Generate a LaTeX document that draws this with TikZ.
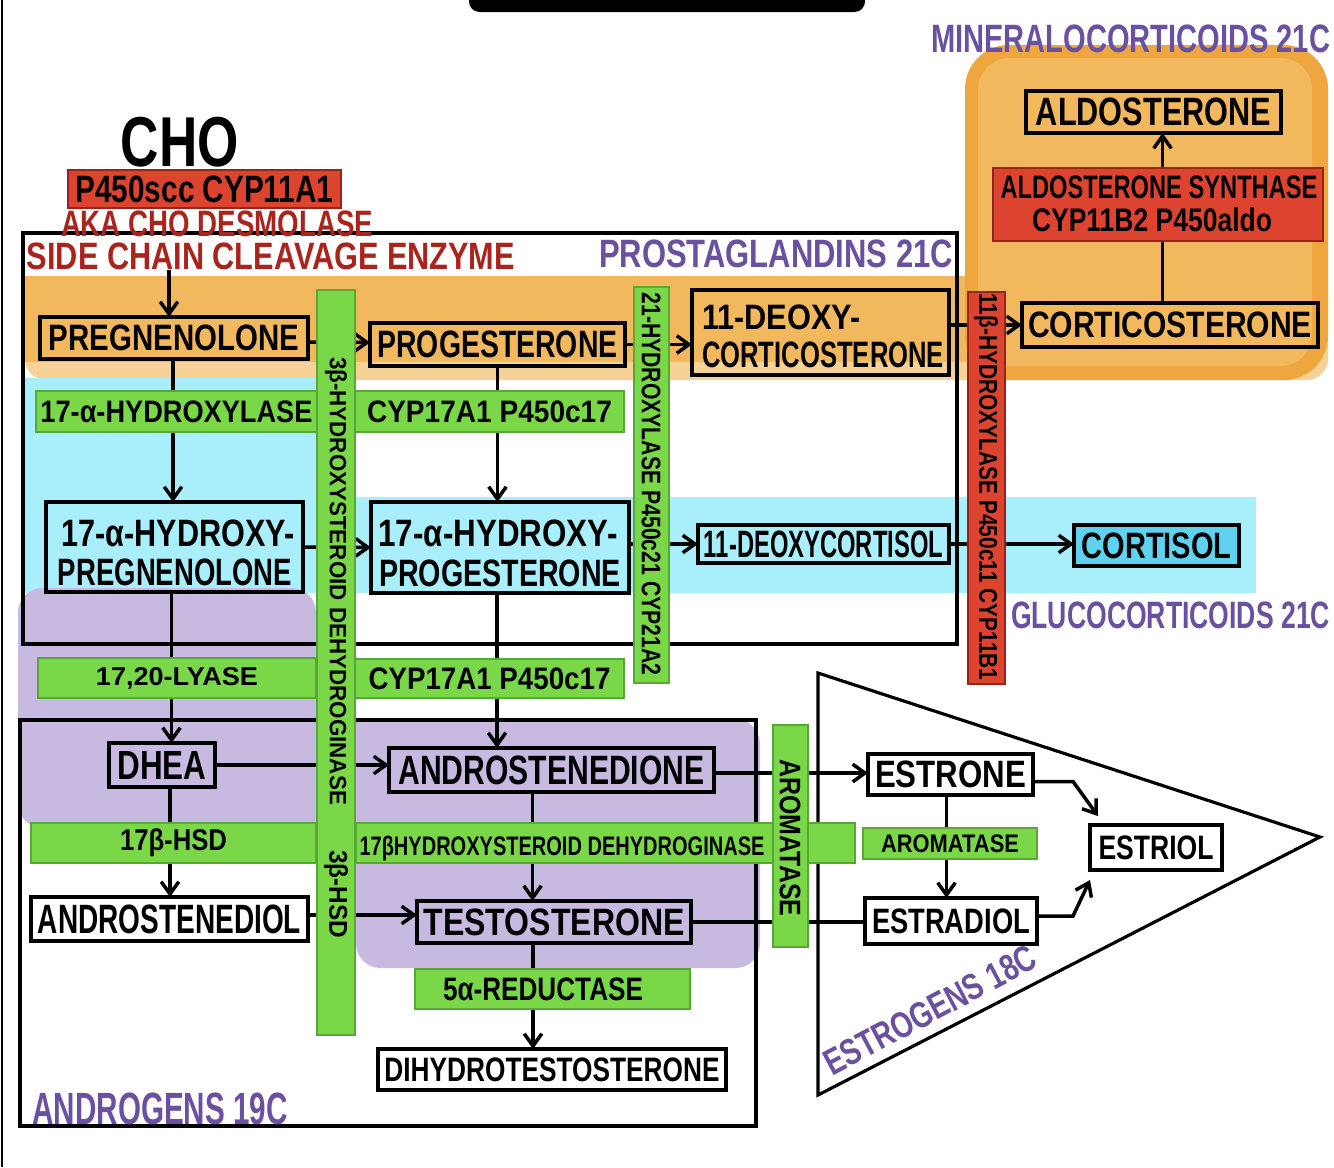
\documentclass[tikz,border=0pt]{standalone}
\usepackage{fontspec}
\setmainfont{Liberation Sans}
\usepackage{graphicx}
\usetikzlibrary{arrows.meta,calc}
\newlength\pxl
\setlength\pxl{0.02cm}
\newcommand\ft[3]{\resizebox*{#1\pxl}{#2\pxl}{\bfseries #3}}
\newcommand\bx[7]{\node[#6,minimum width={(#4-#2)*\pxl},minimum height={(#5-#3)*\pxl}] (#1) at ({(#2+#4)/2},{(#3+#5)/2}) {#7};}
\definecolor{grn}{RGB}{122,216,72}
\definecolor{grnd}{RGB}{88,168,55}
\definecolor{redb}{RGB}{221,68,48}
\definecolor{redd}{RGB}{150,35,28}
\definecolor{org}{RGB}{242,184,94}
\definecolor{orgd}{RGB}{239,166,62}
\definecolor{orgl}{RGB}{246,210,150}
\definecolor{cyn}{RGB}{168,238,251}
\definecolor{cynd}{RGB}{94,210,238}
\definecolor{prp}{RGB}{200,185,224}
\definecolor{prptx}{RGB}{106,80,160}
\definecolor{redtx}{RGB}{170,36,30}
\pgfdeclarelayer{bg}
\pgfdeclarelayer{lines}
\pgfdeclarelayer{bars}
\pgfsetlayers{bg,lines,bars,main}
\begin{document}
\begin{tikzpicture}[x=0.02cm,y=-0.02cm,
 mol/.style={draw=black,line width=2.4pt,inner sep=0pt,outer sep=0pt},
 gbar/.style={fill=grn,draw=grnd,line width=0.7pt,inner sep=0pt},
 rbar/.style={fill=redb,draw=redd,line width=0.9pt,inner sep=0pt},
 conn/.style={line width=2pt,-{Straight Barb[length=7pt,width=10pt]}},
 plainln/.style={line width=2pt},
 frm/.style={draw=black,line width=1.8pt},
 lbl/.style={inner sep=0pt,outer sep=0pt},
 ptx/.style={lbl,text=prptx},
 rtx/.style={lbl,text=redtx}]
\useasboundingbox (0,0) rectangle (1334,1167);
\clip (0,0) rectangle (1334,1167);
\begin{pgfonlayer}{bg}
\fill[white] (0,0) rectangle (1334,1167);
\fill[black,rounded corners=6pt] (469,-20) rectangle (865,12);
\draw[line width=1.5pt] (2,0) -- (2,1167);
% orange
\fill[orgl,rounded corners=12pt] (25,276) rectangle (1328,380);
\fill[org] (25,276) rectangle (1300,362);
\fill[orgd,rounded corners=25pt] (965,45) rectangle (1328,380);
\fill[org,rounded corners=18pt] (978,58) rectangle (1312,366);
% blue
\fill[cyn] (25,378) -- (318,378) -- (318,497) -- (1256,497) -- (1256,593) -- (25,593) -- cycle;
% purple
\fill[prp,rounded corners=14pt] (18,588) -- (316,588) -- (316,719) -- (760,719) -- (760,968) -- (356,968) -- (356,828) -- (18,828) -- cycle;
% frames
\draw[frm] (23,233) rectangle (957,644);
\draw[frm] (20,720) rectangle (756,1126);
\draw[frm,line join=miter] (818,673) -- (1320,837) -- (818,1095) -- cycle;
\end{pgfonlayer}
% free labels
\node[lbl] (cho) at (180,142) {\ft{118}{50}{CHO}};
\node[rtx] (aka) at (217,224) {\ft{312}{26}{AKA CHO DESMOLASE}};
\node[rtx] (scce) at (271,256) {\ft{488}{27}{SIDE CHAIN CLEAVAGE ENZYME}};
\node[ptx] (pg) at (776,254) {\ft{354}{28}{PROSTAGLANDINS 21C}};
\node[ptx,anchor=west] (mc) at (931,39) {\ft{399}{28}{MINERALOCORTICOIDS 21C}};
\node[ptx,anchor=west] (gc) at (1011,615) {\ft{319}{27}{GLUCOCORTICOIDS 21C}};
\node[ptx] (an) at (160,1109) {\ft{255}{32}{ANDROGENS 19C}};
\node[ptx,rotate=28] (es) at (930,1010) {\ft{235}{26}{ESTROGENS 18C}};
\begin{pgfonlayer}{bars}
\bx{scc}{68}{170}{341}{208}{rbar}{\ft{258}{27}{P450scc CYP11A1}}
\bx{b1}{36}{391}{317}{432}{gbar}{\ft{272}{22}{17-α-HYDROXYLASE}}
\bx{b2}{355}{391}{624}{432}{gbar}{\ft{245}{22}{CYP17A1 P450c17}}
\bx{b3}{38}{658}{316}{698}{gbar}{\ft{162}{22}{17,20-LYASE}}
\bx{b4}{355}{659}{624}{698}{gbar}{\ft{242}{22}{CYP17A1 P450c17}}
\bx{b5}{31}{823}{316}{863}{gbar}{\ft{107}{28}{17β-HSD}}
\bx{b6}{356}{823}{855}{863}{gbar}{}
\node[lbl] (b6t) at (562,849) {\ft{405}{25}{17βHYDROXYSTEROID DEHYDROGINASE}};
\bx{b7}{863}{828}{1037}{859}{gbar}{\ft{138}{18}{AROMATASE}}
\bx{b8}{415}{969}{690}{1009}{gbar}{}
\node[lbl] (b8t) at (543,989) {\ft{200}{23}{5α-REDUCTASE}};
\bx{v1}{317}{290}{355}{1035}{gbar}{}
\node[lbl,rotate=-90] (v1a) at (336,581) {\ft{448}{22}{3β-HYDROXYSTEROID DEHYDROGINASE}};
\node[lbl,rotate=-90] (v1b) at (336,894) {\ft{88}{24}{3β-HSD}};
\bx{v2}{634}{287}{669}{683}{gbar}{}
\node[lbl,rotate=-90] (v2a) at (651,484) {\ft{383}{19}{21-HYDROXYLASE P450c21 CYP21A2}};
\bx{v3}{968}{292}{1005}{684}{rbar}{}
\node[lbl,rotate=-90] (v3a) at (986,487) {\ft{387}{24}{11β-HYDROXYLASE P450c11 CYP11B1}};
\bx{v4}{773}{725}{808}{947}{gbar}{}
\node[lbl,rotate=-90] (v4a) at (790,838) {\ft{157}{21}{AROMATASE}};
\bx{syn}{993}{168}{1323}{241}{rbar}{}
\node[lbl] (syn1) at (1159,187) {\ft{317}{23}{ALDOSTERONE SYNTHASE}};
\node[lbl] (syn2) at (1152,220) {\ft{240}{24}{CYP11B2 P450aldo}};
\end{pgfonlayer}
% molecules
\bx{preg}{40}{317}{308}{359}{mol}{\ft{250}{26}{PREGNENOLONE}}
\bx{prog}{370}{323}{625}{366}{mol}{\ft{240}{27}{PROGESTERONE}}
\bx{dcs}{692}{290}{949}{375}{mol}{}
\node[lbl,anchor=west] (dcs1) at (702,317) {\ft{159}{25}{11-DEOXY-}};
\node[lbl,anchor=west] (dcs2) at (702,355) {\ft{242}{26}{CORTICOSTERONE}};
\bx{cort}{1022}{303}{1318}{347}{mol}{\ft{284}{26}{CORTICOSTERONE}}
\bx{aldo}{1026}{91}{1281}{133}{mol}{\ft{235}{28}{ALDOSTERONE}}
\bx{ohpreg}{46}{502}{303}{592}{mol}{}
\node[lbl] (ohpreg1) at (178,533) {\ft{233}{27}{17-α-HYDROXY-}};
\node[lbl] (ohpreg2) at (175,572) {\ft{234}{27}{PREGNENOLONE}};
\bx{ohprog}{371}{502}{629}{593}{mol}{}
\node[lbl] (ohprog1) at (498,533) {\ft{239}{27}{17-α-HYDROXY-}};
\node[lbl] (ohprog2) at (500,573) {\ft{242}{27}{PROGESTERONE}};
\bx{dcl}{698}{525}{949}{563}{mol}{\ft{239}{27}{11-DEOXYCORTISOL}}
\bx{cortisol}{1074}{525}{1239}{566}{mol,fill=cynd}{\ft{150}{26}{CORTISOL}}
\bx{dhea}{109}{743}{215}{787}{mol}{\ft{89}{28}{DHEA}}
\bx{andro}{389}{748}{714}{792}{mol}{\ft{306}{29}{ANDROSTENEDIONE}}
\bx{diol}{31}{897}{308}{941}{mol,fill=white}{\ft{263}{29}{ANDROSTENEDIOL}}
\bx{testo}{417}{901}{691}{943}{mol}{\ft{261}{27}{TESTOSTERONE}}
\bx{dht}{378}{1049}{726}{1090}{mol,fill=white}{\ft{335}{24}{DIHYDROTESTOSTERONE}}
\bx{estrone}{868}{754}{1033}{795}{mol,fill=white}{\ft{151}{27}{ESTRONE}}
\bx{estradiol}{865}{898}{1037}{944}{mol,fill=white}{\ft{158}{25}{ESTRADIOL}}
\bx{estriol}{1090}{825}{1222}{870}{mol,fill=white}{\ft{115}{24}{ESTRIOL}}
% connectors
\begin{pgfonlayer}{lines}
\coordinate (chotop) at (169,270);
\coordinate (a1) at ([xshift=9\pxl]aldo.south);
\coordinate (p1) at ([xshift=-1\pxl]preg.south);
\coordinate (p2) at ([xshift=-3\pxl]ohpreg.south);
\coordinate (p3) at ([xshift=-3\pxl]ohprog.south);
\coordinate (p4) at ([xshift=8\pxl]dhea.south);
\coordinate (p5) at ([xshift=-19\pxl]andro.south);
\coordinate (p6) at ([xshift=-21\pxl]testo.south);
\coordinate (p7) at ([xshift=-4\pxl]estrone.south);
\coordinate (q1) at ([yshift=4\pxl]diol.east);
\coordinate (q2) at ([yshift=-3\pxl]andro.east);
\coordinate (e1) at (1098,816);
\coordinate (e2) at (1090,880);
\draw[conn] (chotop) -- (chotop |- preg.north);
\draw[conn] ([yshift=-4\pxl]preg.east) -- ([yshift=2\pxl]prog.west);
\draw[conn] (prog.east) -- (prog.east -| dcs.west);
\draw[conn] (dcs.east |- cort.west) -- (cort.west);
\draw[conn] (a1 |- cort.north) -- (a1);
\draw[conn] (p1) -- (p1 |- ohpreg.north);
\draw[conn] (prog.south) -- (prog.south |- ohprog.north);
\draw[conn] (ohpreg.east) -- (ohprog.west);
\draw[conn] (ohprog.east |- dcl.west) -- (dcl.west);
\draw[conn] (dcl.east) -- (dcl.east -| cortisol.west);
\draw[conn] (p2) -- (p2 |- dhea.north);
\draw[conn] (p3) -- (p3 |- andro.north);
\draw[conn] (dhea.east) -- (dhea.east -| andro.west);
\draw[conn] (p4) -- (p4 |- diol.north);
\draw[conn] (p5) -- (p5 |- testo.north);
\draw[conn] (q1) -- (q1 -| testo.west);
\draw[conn] (p6) -- (p6 |- dht.north);
\draw[conn] (q2) -- (q2 -| estrone.west);
\draw[plainln] (testo.east) -- (testo.east -| estradiol.west);
\draw[conn] (p7) -- (p7 |- estradiol.north);
\draw[conn] ([yshift=-7\pxl]estrone.east) -- ++(40,0) -- (e1);
\draw[conn] ([yshift=5\pxl]estradiol.east) -- ++(36,0) -- (e2);
\end{pgfonlayer}
\end{tikzpicture}
\end{document}
